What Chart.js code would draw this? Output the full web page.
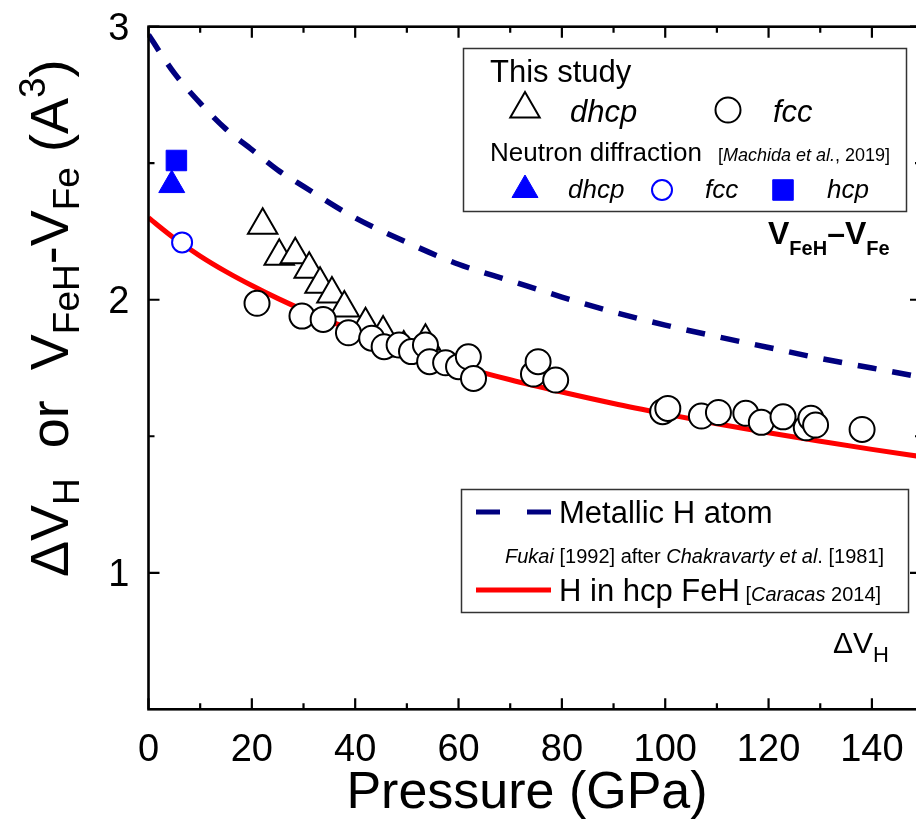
<!DOCTYPE html>
<html>
<head>
<meta charset="utf-8">
<script src="https://cdn.jsdelivr.net/npm/chart.js@4.4.1/dist/chart.umd.min.js"></script>
<style>
html, body { margin: 0; padding: 0; background: #fff; overflow: hidden; }
#wrap { width: 916px; height: 837px; overflow: hidden; position: relative; }
canvas { display: block; }
</style>
</head>
<body>
<div id="wrap"><canvas id="volChart" width="940" height="837"></canvas></div>
<script>
const FONT = '"Liberation Sans", Arial, Helvetica, sans-serif';

// This study
const dhcpP = [22.1, 25.3, 28.4, 31.1, 33.2, 35.5, 37.9, 42.0, 45.4, 49.4, 53.6];
const dhcpV = [2.273, 2.159, 2.165, 2.112, 2.057, 2.021, 1.970, 1.908, 1.878, 1.823, 1.848];
const fccP = [21.0, 29.7, 33.8, 38.7, 43.2, 45.6, 48.5, 50.9, 53.6, 54.4, 57.5, 60.0, 61.9, 62.9,
              74.5, 75.4, 78.8, 99.5, 100.5, 107.0, 110.3, 115.6, 118.6, 122.8, 127.3, 128.2, 129.1, 138.1];
const fccV = [1.987, 1.940, 1.928, 1.879, 1.859, 1.828, 1.834, 1.810, 1.834, 1.773, 1.769, 1.755, 1.791, 1.712,
              1.728, 1.773, 1.706, 1.590, 1.602, 1.574, 1.587, 1.584, 1.551, 1.571, 1.531, 1.566, 1.541, 1.525];

// Neutron diffraction [Machida et al., 2019]
const nDhcpP = [4.5];  const nDhcpV = [2.42];
const nFccP = [6.5];   const nFccV = [2.21];
const nHcpP = [5.4];   const nHcpV = [2.51];

// reference curves
const curveP = [0, 5, 10, 15, 20, 25, 30, 40, 50, 60, 70, 80, 90, 100, 110, 120, 130, 140, 150];
const metallicV = [2.97, 2.83, 2.72, 2.625, 2.55, 2.475, 2.415, 2.30, 2.21, 2.13, 2.07, 2.01, 1.955,
                   1.907, 1.865, 1.825, 1.785, 1.75, 1.715];
const hcpFeHV = [2.30, 2.225, 2.16, 2.103, 2.052, 2.005, 1.962, 1.885, 1.818, 1.758, 1.707, 1.662, 1.620,
                 1.582, 1.546, 1.513, 1.482, 1.452, 1.424];

const xTicks = [0, 20, 40, 60, 80, 100, 120, 140];
const xMinor = [10, 30, 50, 70, 90, 110, 130];
const yTicks = [1, 2, 3];
const yMinor = [1.5, 2.5];

function pts(xs, ys) {
    return xs.map((x, i) => ({ x: x, y: ys[i] }));
}

// draw a run of text pieces [text, size, style, shift] one after another
function drawRuns(ctx, runs, x, y) {
    let cx = x;
    ctx.fillStyle = '#000';
    runs.forEach(r => {
        ctx.font = (r[2] || '') + ' ' + r[1] + 'px ' + FONT;
        ctx.fillText(r[0], cx, y + (r[3] || 0));
        cx += ctx.measureText(r[0]).width;
    });
    return cx;
}

function marker(ctx, type, x, y, r, fill, stroke, lw) {
    ctx.save();
    ctx.beginPath();
    if (type === 'triangle') {
        ctx.moveTo(x, y - r);
        ctx.lineTo(x + r * 0.866, y + r / 2);
        ctx.lineTo(x - r * 0.866, y + r / 2);
        ctx.closePath();
    } else if (type === 'circle') {
        ctx.arc(x, y, r, 0, Math.PI * 2);
    } else {
        const s = r * Math.SQRT2;
        ctx.rect(x - s / 2, y - s / 2, s, s);
    }
    ctx.fillStyle = fill;
    ctx.fill();
    ctx.lineWidth = lw;
    ctx.strokeStyle = stroke;
    ctx.stroke();
    ctx.restore();
}

const framePlugin = {
    id: 'frame',
    afterDatasetsDraw(chart) {
        const ctx = chart.ctx, a = chart.chartArea;
        const xs = chart.scales.x, ys = chart.scales.y;
        ctx.save();
        ctx.strokeStyle = '#000';
        ctx.lineWidth = 2.2;
        ctx.beginPath();
        xTicks.concat(xMinor).forEach(p => {
            const x = xs.getPixelForValue(p);
            const len = xTicks.includes(p) ? 11 : 6;
            ctx.moveTo(x, a.bottom); ctx.lineTo(x, a.bottom - len);
            ctx.moveTo(x, a.top); ctx.lineTo(x, a.top + len);
        });
        yTicks.concat(yMinor).forEach(v => {
            const y = ys.getPixelForValue(v);
            const len = yTicks.includes(v) ? 11 : 6;
            ctx.moveTo(a.left, y); ctx.lineTo(a.left + len, y);
            ctx.moveTo(a.right, y); ctx.lineTo(a.right - len, y);
        });
        ctx.stroke();
        ctx.lineWidth = 2.6;
        ctx.strokeRect(a.left, a.top, a.right - a.left, a.bottom - a.top);

        // tick labels
        ctx.fillStyle = '#000';
        ctx.font = '38px ' + FONT;
        ctx.textBaseline = 'alphabetic';
        ctx.textAlign = 'center';
        xTicks.forEach(p => ctx.fillText(String(p), xs.getPixelForValue(p), a.bottom + 52));
        ctx.textAlign = 'right';
        yTicks.forEach(v => ctx.fillText(String(v), a.left - 19, ys.getPixelForValue(v) + 13.5));
        ctx.restore();
    },
    afterDraw(chart) {
        const ctx = chart.ctx;
        ctx.save();
        ctx.fillStyle = '#000';
        ctx.textBaseline = 'alphabetic';

        // axis titles
        ctx.font = '52px ' + FONT;
        ctx.textAlign = 'center';
        ctx.fillText('Pressure (GPa)', 527, 808);
        ctx.textAlign = 'left';

        ctx.save();
        ctx.translate(68, 577);
        ctx.rotate(-Math.PI / 2);
        drawRuns(ctx, [['\u0394V', 54], ['H', 37, '', 11], ['  or  ', 54], ['V', 54], ['FeH', 37, '', 11],
                       ['-', 54], ['V', 54], ['Fe', 37, '', 11], [' (A', 54], ['3', 37, '', -23], [')', 54]], 0, 0);
        ctx.restore();

        // curve labels
        drawRuns(ctx, [['V', 32, 'bold'], ['FeH', 20, 'bold', 11], ['\u2013', 32, 'bold'],
                       ['V', 32, 'bold'], ['Fe', 20, 'bold', 11]], 768, 244);
        drawRuns(ctx, [['\u0394V', 30], ['H', 22, '', 9]], 833, 653);

        // legend box: symbols
        ctx.lineWidth = 1.5;
        ctx.strokeStyle = '#333';
        ctx.strokeRect(463.5, 48.5, 443, 163);
        drawRuns(ctx, [['This study', 31]], 490, 82);
        marker(ctx, 'triangle', 525, 109, 17, '#fff', '#000', 2);
        drawRuns(ctx, [['dhcp', 31, 'italic']], 570, 122);
        marker(ctx, 'circle', 728, 110, 12.5, '#fff', '#000', 2);
        drawRuns(ctx, [['fcc', 31, 'italic']], 773, 122);
        drawRuns(ctx, [['Neutron diffraction', 26]], 490, 161);
        drawRuns(ctx, [['[', 18], ['Machida et al.', 18, 'italic'], [', 2019]', 18]], 718, 161);
        marker(ctx, 'triangle', 525, 190, 15, '#0000ff', '#0000ff', 1);
        drawRuns(ctx, [['dhcp', 26, 'italic']], 568, 198);
        marker(ctx, 'circle', 662, 190, 10, '#fff', '#0000ff', 2);
        drawRuns(ctx, [['fcc', 26, 'italic']], 705, 198);
        marker(ctx, 'rect', 783, 190, 14.5, '#0000ff', '#0000ff', 1);
        drawRuns(ctx, [['hcp', 26, 'italic']], 827, 198);

        // legend box: curves
        ctx.lineWidth = 1.5;
        ctx.strokeStyle = '#333';
        ctx.strokeRect(461.5, 489.5, 447, 123);
        ctx.lineWidth = 5;
        ctx.strokeStyle = '#00007f';
        ctx.beginPath();
        ctx.moveTo(476, 512); ctx.lineTo(500, 512);
        ctx.moveTo(527, 512); ctx.lineTo(551, 512);
        ctx.stroke();
        drawRuns(ctx, [['Metallic H atom', 31]], 559, 523);
        drawRuns(ctx, [['Fukai', 20, 'italic'], [' [1992] after ', 20], ['Chakravarty et al', 20, 'italic'],
                       ['. [1981]', 20]], 505, 563);
        ctx.strokeStyle = '#ff0000';
        ctx.beginPath();
        ctx.moveTo(476, 590); ctx.lineTo(551, 590);
        ctx.stroke();
        drawRuns(ctx, [['H in hcp FeH', 31], [' [', 20], ['Caracas', 20, 'italic'], [' 2014]', 20]], 559, 601);
        ctx.restore();
    }
};

const ctx = document.getElementById('volChart').getContext('2d');

new Chart(ctx, {
    type: 'scatter',
    data: {
        datasets: [
            {
                label: 'Metallic H atom',
                data: pts(curveP, metallicV),
                showLine: true,
                borderColor: '#00007f',
                borderWidth: 5.5,
                borderDash: [19, 16],
                pointRadius: 0,
                cubicInterpolationMode: 'monotone',
                order: 10
            },
            {
                label: 'H in hcp FeH',
                data: pts(curveP, hcpFeHV),
                showLine: true,
                borderColor: '#ff0000',
                borderWidth: 5,
                pointRadius: 0,
                cubicInterpolationMode: 'monotone',
                order: 9
            },
            {
                label: 'dhcp (this study)',
                data: pts(dhcpP, dhcpV),
                pointStyle: 'triangle',
                pointRadius: 17,
                backgroundColor: '#fff',
                borderColor: '#000',
                borderWidth: 2,
                order: 3
            },
            {
                label: 'fcc (this study)',
                data: pts(fccP, fccV),
                pointStyle: 'circle',
                pointRadius: 12.5,
                backgroundColor: '#fff',
                borderColor: '#000',
                borderWidth: 2,
                order: 2
            },
            {
                label: 'dhcp (neutron)',
                data: pts(nDhcpP, nDhcpV),
                pointStyle: 'triangle',
                pointRadius: 15,
                backgroundColor: '#0000ff',
                borderColor: '#0000ff',
                borderWidth: 1,
                order: 1
            },
            {
                label: 'fcc (neutron)',
                data: pts(nFccP, nFccV),
                pointStyle: 'circle',
                pointRadius: 10,
                backgroundColor: '#fff',
                borderColor: '#0000ff',
                borderWidth: 2,
                order: 1
            },
            {
                label: 'hcp (neutron)',
                data: pts(nHcpP, nHcpV),
                pointStyle: 'rect',
                pointRadius: 14.5,
                backgroundColor: '#0000ff',
                borderColor: '#0000ff',
                borderWidth: 1,
                order: 1
            }
        ]
    },
    options: {
        responsive: false,
        animation: false,
        layout: { padding: { top: 26.7, right: 16, left: 0, bottom: 0 } },
        plugins: {
            legend: { display: false },
            tooltip: { enabled: false }
        },
        scales: {
            x: {
                type: 'linear',
                min: 0,
                max: 149.5,
                grid: { display: false },
                border: { display: false },
                ticks: { display: false },
                afterFit: s => { s.height = 127.7; }
            },
            y: {
                type: 'linear',
                min: 0.5,
                max: 3,
                grid: { display: false },
                border: { display: false },
                ticks: { display: false },
                afterFit: s => { s.width = 148.5; }
            }
        }
    },
    plugins: [framePlugin]
});
</script>
</body>
</html>
